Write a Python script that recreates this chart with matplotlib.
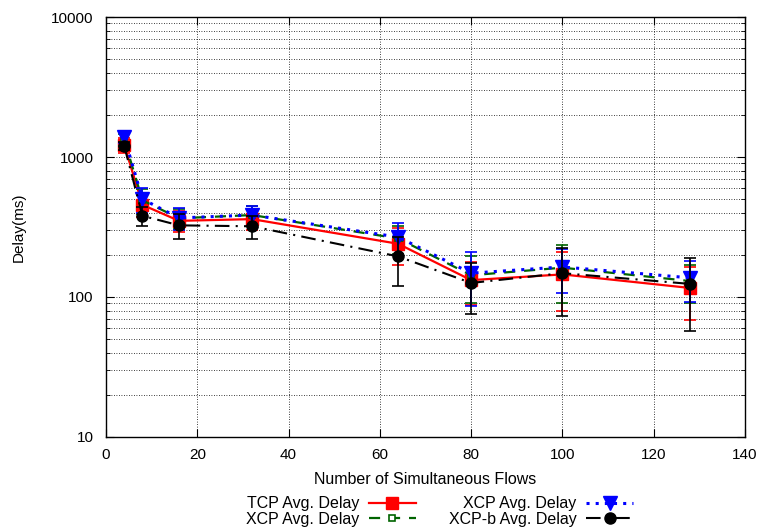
import matplotlib
matplotlib.use("Agg")
import matplotlib.pyplot as plt
from matplotlib.ticker import FixedLocator, NullFormatter, LogLocator
import numpy as np

plt.rcParams['font.family'] = ['Liberation Sans', 'DejaVu Sans']

flows = [4, 8, 16, 32, 64, 80, 100, 128]

tcp_mean = [1220, 455, 350, 360, 240, 132, 145, 116]
tcp_err = [150, 80, 60, 60, 70, 45, 65, 48]

xcp_mean = [1330, 490, 365, 385, 262, 143, 162, 130]
xcp_err = [130, 100, 60, 65, 60, 52, 72, 40]

xcp2_mean = [1390, 500, 367, 385, 268, 148, 164, 137]
xcp2_err = [140, 100, 65, 62, 70, 62, 58, 45]

xcpb_mean = [1200, 380, 325, 320, 195, 126, 148, 124]
xcpb_err = [80, 60, 65, 60, 75, 50, 75, 67]

labels = ["TCP Avg. Delay", "XCP Avg. Delay", "XCP Avg. Delay", "XCP-b Avg. Delay"]
x_ticks = [0, 20, 40, 60, 80, 100, 120, 140]
y_ticks = [10, 100, 1000, 10000]

fig = plt.figure(figsize=(7.63, 5.32), dpi=100)
ax = fig.add_axes([0.1389, 0.1786, 0.8375, 0.7894])

series = [
    (tcp_mean, tcp_err, dict(color='#ff0000', linestyle='-', linewidth=1.6, marker='s', markersize=8,
                             markerfacecolor='#ff0000', markeredgecolor='#ff0000')),
    (xcp_mean, xcp_err, dict(color='#006400', linestyle=(0, (5, 4)), linewidth=1.6, marker='s', markersize=4,
                             markerfacecolor='white', markeredgecolor='#006400', markeredgewidth=1.2)),
    (xcp2_mean, xcp2_err, dict(color='#0000ff', linestyle=(0, (1, 2)), linewidth=2.2, marker='v', markersize=10,
                               markerfacecolor='#0000ff', markeredgecolor='#0000ff')),
    (xcpb_mean, xcpb_err, dict(color='black', linestyle=(0, (7, 3, 1, 3)), linewidth=1.5, marker='o', markersize=8,
                               markerfacecolor='black', markeredgecolor='black')),
]

handles = []
for i, (m, e, st) in enumerate(series):
    ax.errorbar(flows, m, yerr=e, fmt='none', ecolor=st['color'], elinewidth=1.2, capsize=4,
                capthick=1.2, zorder=2 + i)
    h, = ax.plot(flows, m, label=labels[i], zorder=3 + i, **st)
    handles.append(h)

ax.set_yscale('log')
ax.set_xlim(0, 140)
ax.set_ylim(10, 10000)
ax.set_xticks(x_ticks)
ax.set_xticklabels([str(t) for t in x_ticks])
ax.yaxis.set_major_locator(FixedLocator(y_ticks))
ax.set_yticklabels([str(t) for t in y_ticks])
ax.yaxis.set_minor_locator(LogLocator(base=10, subs=np.arange(2, 10)))
ax.yaxis.set_minor_formatter(NullFormatter())

ax.tick_params(which='both', direction='in', top=True, right=True, labelsize=11)
ax.tick_params(which='major', length=6, width=0.8)
ax.tick_params(which='minor', length=3, width=0.6)
ax.tick_params(axis='y', which='major', pad=9)
ax.tick_params(axis='x', which='major', pad=8)

ax.grid(True, which='major', axis='both', color='black', linestyle=(0, (1, 2)), linewidth=0.6)
ax.grid(True, which='minor', axis='y', color='black', linestyle=(0, (1, 2)), linewidth=0.6)
ax.set_axisbelow(True)

for s in ax.spines.values():
    s.set_linewidth(1.0)

ax.set_xlabel("Number of Simultaneous Flows", fontsize=11.5, labelpad=7)
ax.set_ylabel("Delay(ms)", fontsize=11, labelpad=18)

leg = fig.legend(handles, labels,
                 ncol=2, loc='center', bbox_to_anchor=(0.576, 0.0385), frameon=False, markerfirst=False,
                 fontsize=11.5, handlelength=2.95, columnspacing=2.05, labelspacing=0.05, handletextpad=0.6,
                 borderpad=0)
for t in leg.get_texts():
    t.set_ha('right')

fig.savefig("out.png", dpi=100)
